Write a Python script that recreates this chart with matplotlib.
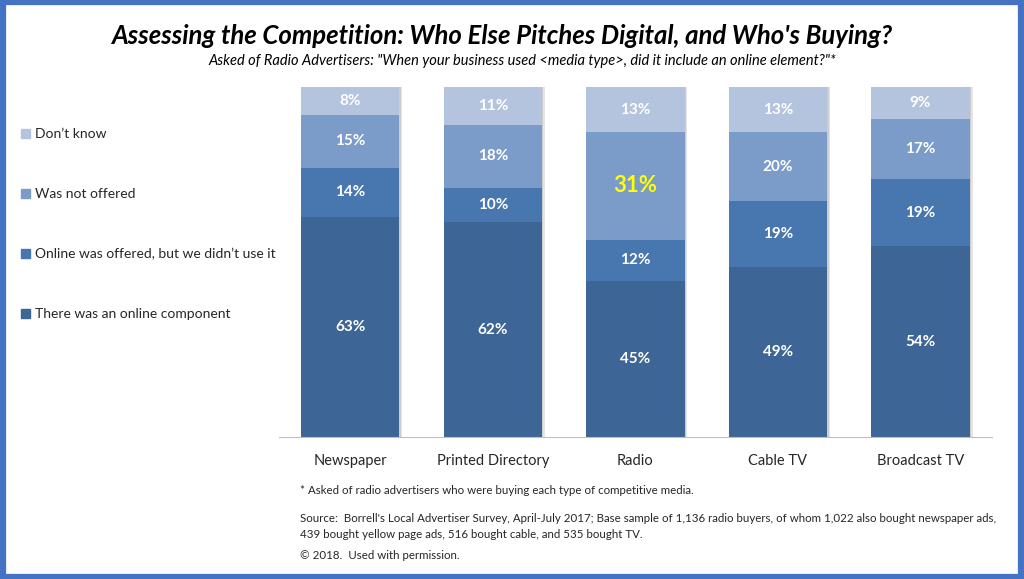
import numpy as np
import matplotlib.pyplot as plt
from matplotlib.patches import Rectangle, Patch

plt.rcParams['font.family'] = ['Lato', 'DejaVu Sans']

# data
categories = ['Newspaper', 'Printed Directory', 'Radio', 'Cable TV', 'Broadcast TV']
online_component = [63, 62, 45, 49, 54]
offered_not_used = [14, 10, 12, 19, 19]
not_offered = [15, 18, 31, 20, 17]
dont_know = [8, 11, 13, 13, 9]

series_names = ['There was an online component',
                'Online was offered, but we didn\u2019t use it',
                'Was not offered',
                'Don\u2019t know']
series_values = [online_component, offered_not_used, not_offered, dont_know]
colors = ['#3D6595', '#4876AE', '#7B9BC8', '#B4C3DE']

fig = plt.figure(figsize=(10.24, 5.79), dpi=100)

# blue frame
fig.patches.append(Rectangle((0.0025, 0.004), 0.995, 0.992, transform=fig.transFigure,
                             fill=False, edgecolor='#4472C4', linewidth=4.5))

ax = fig.add_axes([0.2725, 0.2444, 0.696, 0.6054])

vals = np.array(series_values, dtype=float)
totals = vals.sum(axis=0)
pct = vals / totals * 100  # 100% stacked
x = np.arange(len(categories))
width = 0.69

# soft shadow behind each bar
ax.bar(x + 0.02, 100, width, color='#E4E4E4', linewidth=0, zorder=1)
ax.bar(x + 0.01, 100, width, color='#CDCDCD', linewidth=0, zorder=1)

bottom = np.zeros(len(categories))
for i, name in enumerate(series_names):
    ax.bar(x, pct[i], width, bottom=bottom, color=colors[i], label=name,
           linewidth=0, zorder=2)
    for j in range(len(categories)):
        yc = bottom[j] + pct[i][j] / 2
        big = (i == 2 and categories[j] == 'Radio')
        ax.text(x[j], yc, f'{int(vals[i][j])}%', ha='center', va='center',
                color='#FFFF00' if big else 'white', fontweight='bold',
                fontsize=16 if big else 11, zorder=3)
    bottom += pct[i]

ax.set_xlim(-0.5, len(categories) - 0.5)
ax.set_ylim(0, 100)
ax.set_yticks([])
ax.set_xticks(x)
ax.set_xticklabels(categories, fontsize=10.5, color='#262626')
ax.tick_params(axis='x', length=0, pad=12)
for s in ['top', 'left', 'right']:
    ax.spines[s].set_visible(False)
ax.spines['bottom'].set_color('#BFBFBF')

# legend, top entry first
handles = [Patch(color=colors[i]) for i in range(3, -1, -1)]
labels = [series_names[i] for i in range(3, -1, -1)]
fig.legend(handles, labels, loc='upper left', bbox_to_anchor=(0.008, 0.8),
           frameon=False, fontsize=10, handlelength=0.65, handleheight=0.65,
           handletextpad=0.4, labelspacing=3.45, labelcolor='#262626')

# titles
fig.text(0.49, 0.938, 'Assessing the Competition: Who Else Pitches Digital, and Who\'s Buying?',
         ha='center', va='center', fontsize=18.5, fontweight='bold', fontstyle='italic',
         color='black')
fig.text(0.51, 0.894, 'Asked of Radio Advertisers: "When your business used <media type>, did it include an online element?"*',
         ha='center', va='center', fontsize=10.5, fontstyle='italic', color='black')

# notes
note_kw = dict(fontsize=8.3, va='center', color='#262626')
fig.text(0.293, 0.152, '* Asked of radio advertisers who were buying each type of competitive media.', **note_kw)
fig.text(0.293, 0.105, 'Source:  Borrell\'s Local Advertiser Survey, April-July 2017; Base sample of 1,136 radio buyers, of whom 1,022 also bought newspaper ads,', **note_kw)
fig.text(0.293, 0.076, '439 bought yellow page ads, 516 bought cable, and 535 bought TV.', **note_kw)
fig.text(0.293, 0.040, '\u00a9 2018.  Used with permission.', **note_kw)

fig.savefig('out.png', dpi=100)
